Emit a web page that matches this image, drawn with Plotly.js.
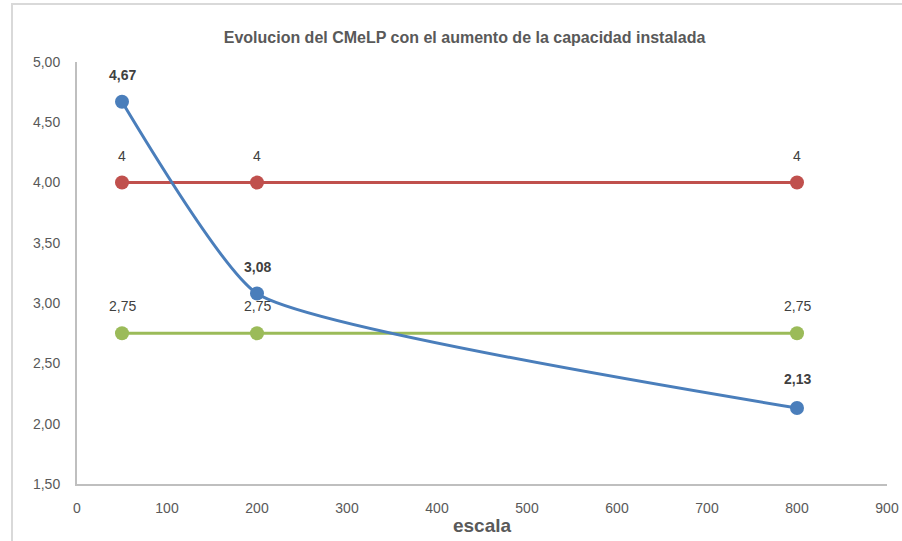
<!DOCTYPE html>
<html><head><meta charset="utf-8">
<script src="https://cdn.plot.ly/plotly-3.0.1.min.js"></script>
<style>
html,body{margin:0;padding:0;background:#fff;overflow:hidden;}
#chart{position:absolute;left:0;top:0;width:902px;height:541px;}
#frame{position:absolute;left:11px;top:3px;width:900px;height:560px;border:2px solid #d9d9d9;pointer-events:none;}
</style></head>
<body>
<div id="chart"></div>
<div id="frame"></div>
<script>
const escala = [50, 200, 800];
const cmelp = [4.67, 3.08, 2.13];
const serieRoja = [4, 4, 4];
const serieVerde = [2.75, 2.75, 2.75];

const fontFam = '"Liberation Sans Narrow", "Arial Narrow", Arial, sans-serif';

function series(y, color, shape) {
  return {
    x: escala, y: y, type: 'scatter', mode: 'lines+markers',
    line: {color: color, width: 3, shape: shape, smoothing: 0.45},
    marker: {color: color, size: 14},
    hoverinfo: 'skip', cliponaxis: false
  };
}

const traces = [
  series(serieRoja, '#c0504d', 'linear'),
  series(serieVerde, '#9bbb59', 'linear'),
  series(cmelp, '#4a7ebb', 'spline')
];

function fmt(v, d) { return v.toFixed(d).replace('.', ','); }

const annotations = [];
escala.forEach((x, i) => {
  annotations.push({x: x, y: serieRoja[i], text: String(serieRoja[i]), showarrow: false, yshift: 27,
    font: {family: fontFam, size: 14, color: '#404040'}});
  annotations.push({x: x, y: serieVerde[i], text: fmt(serieVerde[i], 2), showarrow: false, yshift: 27,
    font: {family: fontFam, size: 14, color: '#404040'}});
  annotations.push({x: x, y: cmelp[i], text: '<b>' + fmt(cmelp[i], 2) + '</b>', showarrow: false, yshift: i === 2 ? 29 : 27,
    font: {family: fontFam, size: 14, color: '#404040'}});
});

const layout = {
  width: 902, height: 541,
  margin: {l: 77, r: 15, t: 62, b: 57},
  paper_bgcolor: '#ffffff', plot_bgcolor: '#ffffff',
  separators: ',.',
  showlegend: false,
  title: {text: '<b>Evolucion del CMeLP con el aumento de la capacidad instalada</b>',
    font: {family: fontFam, size: 16, color: '#595959'}, x: 0.515, xanchor: 'center', y: 0.93, yanchor: 'middle'},
  xaxis: {
    range: [0, 900], dtick: 100, tick0: 0, showgrid: false, zeroline: false,
    showline: true, linecolor: '#bfbfbf', linewidth: 2, ticks: '', ticklabelstandoff: 10,
    tickfont: {family: fontFam, size: 14, color: '#595959'},
    title: {text: '<b>escala</b>', font: {family: fontFam, size: 19, color: '#595959'}, standoff: 4}
  },
  yaxis: {
    range: [1.5, 5], dtick: 0.5, tick0: 1.5, tickformat: '.2f', showgrid: false, zeroline: false,
    showline: true, linecolor: '#bfbfbf', linewidth: 2, ticks: '', ticklabelstandoff: 12,
    tickfont: {family: fontFam, size: 14, color: '#595959'}
  },
  annotations: annotations
};

Plotly.newPlot('chart', traces, layout, {displayModeBar: false, staticPlot: true});
</script>
</body></html>
